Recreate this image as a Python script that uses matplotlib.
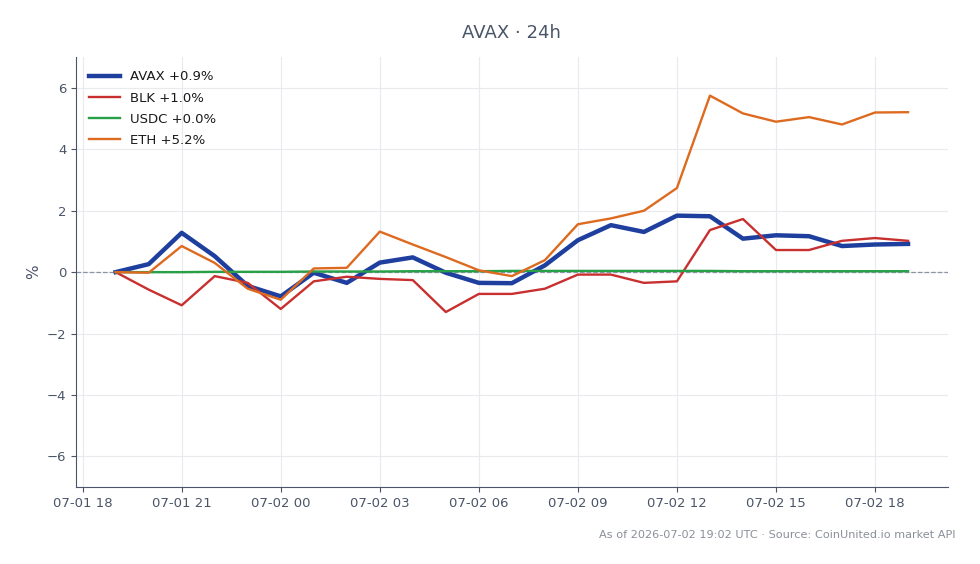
import numpy as np
import pandas as pd
import matplotlib
matplotlib.use("Agg")
import matplotlib.pyplot as plt
import matplotlib.dates as mdates

# hourly snapshots, % change vs start
times = pd.date_range("2026-07-01 19:00", "2026-07-02 19:00", freq="h")

avax = [0.0, 0.26, 1.28, 0.52, -0.45, -0.79, -0.02, -0.35, 0.31, 0.48, -0.02, -0.35,
        -0.36, 0.22, 1.04, 1.53, 1.31, 1.84, 1.82, 1.09, 1.20, 1.17, 0.85, 0.90, 0.92]
blk = [0.0, -0.57, -1.08, -0.13, -0.35, -1.20, -0.30, -0.15, -0.22, -0.26, -1.30, -0.71,
       -0.71, -0.54, -0.08, -0.08, -0.35, -0.30, 1.37, 1.73, 0.72, 0.72, 1.02, 1.11, 1.02]
usdc = [0.0, 0.0, 0.0, 0.01, 0.01, 0.01, 0.02, 0.02, 0.02, 0.03, 0.03, 0.03,
        0.04, 0.04, 0.04, 0.04, 0.04, 0.04, 0.04, 0.03, 0.03, 0.03, 0.03, 0.03, 0.03]
eth = [0.0, -0.02, 0.85, 0.30, -0.54, -0.90, 0.12, 0.14, 1.32, 0.90, 0.49, 0.06,
       -0.13, 0.39, 1.56, 1.75, 2.00, 2.74, 5.75, 5.17, 4.90, 5.05, 4.81, 5.20, 5.21]

series = [
    ("AVAX", avax, "#1e3f9e", 3.2),
    ("BLK", blk, "#c8302f", 1.7),
    ("USDC", usdc, "#27a047", 1.7),
    ("ETH", eth, "#dd6a1f", 1.7),
]

text_col = "#4a5568"

fig = plt.figure(figsize=(9.8, 5.64), dpi=100)
ax = fig.add_axes([0.0776, 0.1365, 0.8894, 0.762])

ax.axhline(0, color="#8a94a3", linestyle="--", linewidth=0.9, zorder=1)
for name, vals, col, lw in series:
    ax.plot(times, vals, color=col, linewidth=lw, label=f"{name} {vals[-1]:+.1f}%", zorder=3)

ax.set_ylim(-7, 7)
ax.set_yticks([-6, -4, -2, 0, 2, 4, 6])
ax.yaxis.set_major_formatter(matplotlib.ticker.FuncFormatter(lambda v, p: f"{v:.0f}".replace("-", "\u2212")))
ax.xaxis.set_major_locator(mdates.HourLocator(byhour=range(0, 24, 3)))
ax.xaxis.set_major_formatter(mdates.DateFormatter("%m-%d %H"))

ax.grid(True, color="#e8eaee", linewidth=0.8)
ax.set_axisbelow(True)
for s in ["top", "right"]:
    ax.spines[s].set_visible(False)
for s in ["left", "bottom"]:
    ax.spines[s].set_color(text_col)
ax.tick_params(colors=text_col, labelsize=9.5)

ax.set_ylabel("%", color=text_col, fontsize=11)
ax.set_title("AVAX · 24h", color=text_col, fontsize=13, pad=14)

leg = ax.legend(loc="upper left", frameon=False, fontsize=9.5, handlelength=2.3,
                borderaxespad=0.6, labelspacing=0.62)
for t in leg.get_texts():
    t.set_color("#1a1a1a")

fig.text(0.975, 0.043, "As of 2026-07-02 19:02 UTC · Source: CoinUnited.io market API",
         ha="right", va="bottom", fontsize=8.1, color="#8a8f98")

fig.savefig("out.png", dpi=100)
